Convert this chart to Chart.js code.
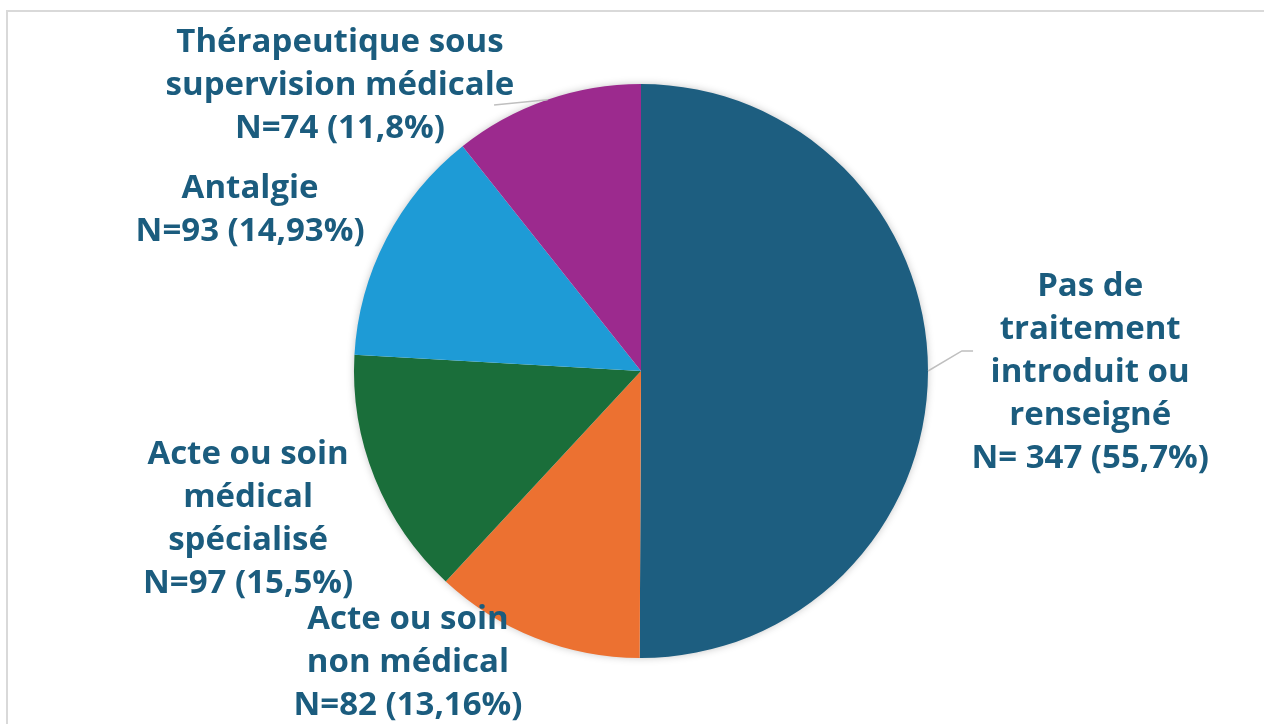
<!DOCTYPE html>
<html>
<head>
<meta charset="utf-8">
<script src="https://cdn.jsdelivr.net/npm/chart.js@4"></script>
<style>
  html, body { margin: 0; padding: 0; background: #fff; }
  canvas { display: block; }
</style>
</head>
<body>
<canvas id="chartTraitements" width="1264" height="724"></canvas>
<script>
// data
const categories = [
  'Pas de traitement introduit ou renseigné',
  'Acte ou soin non médical',
  'Acte ou soin médical spécialisé',
  'Antalgie',
  'Thérapeutique sous supervision médicale'
];
const counts = [347, 82, 97, 93, 74];
const percentTexts = ['55,7%', '13,16%', '15,5%', '14,93%', '11,8%'];
const labelLines = [
  ['Pas de', 'traitement', 'introduit ou', 'renseigné', 'N= 347 (55,7%)'],
  ['Acte ou soin', 'non médical', 'N=82 (13,16%)'],
  ['Acte ou soin', 'médical', 'spécialisé', 'N=97 (15,5%)'],
  ['Antalgie', 'N=93 (14,93%)'],
  ['Thérapeutique sous', 'supervision médicale', 'N=74 (11,8%)']
];
const colors = ['#1D5E80', '#EC7131', '#1A6E3A', '#1E9BD6', '#9C2A8E'];

// label block centres, in units of the pie radius from the pie centre
const labelPos = [
  [1.565, 0.007],
  [-0.812, 1.017],
  [-1.369, 0.516],
  [-1.362, -0.561],
  [-1.049, -0.993]
];
// leader lines: start angle on the rim (deg, clockwise from top), then points in radius units
const leaders = [
  { angle: 90, pts: [[1.118, -0.070], [1.157, -0.070]] },
  { angle: 341, pts: [[-0.512, -0.927]] }
];

const framePlugin = {
  id: 'frame',
  beforeDraw(chart) {
    const c = chart.ctx;
    c.save();
    c.strokeStyle = '#d9d9d9';
    c.lineWidth = 2;
    c.beginPath();
    c.moveTo(7, chart.height);
    c.lineTo(7, 11);
    c.lineTo(chart.width, 11);
    c.stroke();
    c.restore();
  }
};

const shadowPlugin = {
  id: 'pieShadow',
  beforeDatasetsDraw(chart) {
    const arc = chart.getDatasetMeta(0).data[0];
    if (!arc) return;
    const c = chart.ctx;
    c.save();
    c.shadowColor = 'rgba(0,0,0,0.28)';
    c.shadowBlur = 8;
    c.fillStyle = '#fff';
    c.beginPath();
    c.arc(arc.x, arc.y, arc.outerRadius - 1, 0, Math.PI * 2);
    c.fill();
    c.restore();
  }
};

const labelPlugin = {
  id: 'outerLabels',
  afterDatasetsDraw(chart) {
    const arc = chart.getDatasetMeta(0).data[0];
    if (!arc) return;
    const cx = arc.x, cy = arc.y, r = arc.outerRadius;
    const c = chart.ctx;
    c.save();
    // leader lines
    c.strokeStyle = '#bfbfbf';
    c.lineWidth = 1.5;
    leaders.forEach(l => {
      const a = (l.angle - 90) * Math.PI / 180;
      c.beginPath();
      c.moveTo(cx + r * Math.cos(a), cy + r * Math.sin(a));
      l.pts.forEach(p => c.lineTo(cx + p[0] * r, cy + p[1] * r));
      c.stroke();
    });
    // text
    c.fillStyle = '#1B5C7E';
    c.font = 'bold 33px "Open Sans", Roboto, sans-serif';
    c.textAlign = 'center';
    c.textBaseline = 'middle';
    const lh = 43;
    labelLines.forEach((lines, i) => {
      const x = cx + labelPos[i][0] * r;
      const y0 = cy + labelPos[i][1] * r - (lines.length - 1) * lh / 2;
      lines.forEach((t, k) => c.fillText(t, x, y0 + k * lh));
    });
    c.restore();
  }
};

const ctx = document.getElementById('chartTraitements');
new Chart(ctx, {
  type: 'pie',
  data: {
    labels: categories,
    datasets: [{
      data: counts,
      backgroundColor: colors,
      borderWidth: 0
    }]
  },
  options: {
    responsive: false,
    animation: false,
    layout: {
      padding: { top: 84, bottom: 66, left: 345, right: 327 }
    },
    plugins: {
      legend: { display: false },
      tooltip: { enabled: false }
    }
  },
  plugins: [framePlugin, shadowPlugin, labelPlugin]
});
</script>
</body>
</html>
